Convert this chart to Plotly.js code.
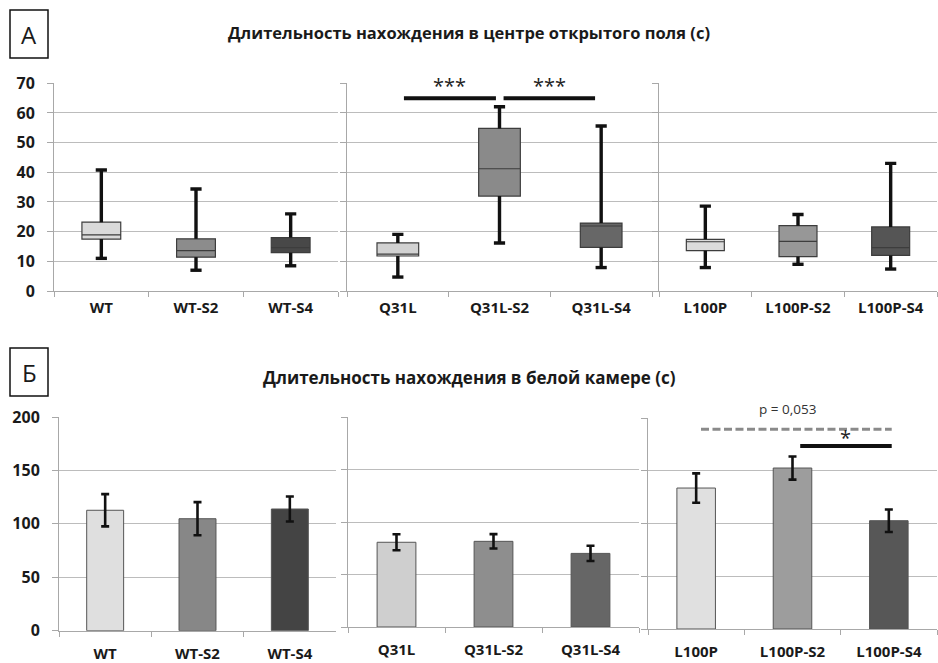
<!DOCTYPE html>
<html>
<head>
<meta charset="utf-8">
<script src="https://cdn.plot.ly/plotly-3.0.1.min.js"></script>
<style>
  html, body { margin: 0; padding: 0; background: #fff; }
  #chart { width: 938px; height: 663px; }
</style>
</head>
<body>
<div id="chart"></div>
<script>
// Group categories (one panel per line)
const catsWT = ['WT', 'WT-S2', 'WT-S4'];
const catsQ31L = ['Q31L', 'Q31L-S2', 'Q31L-S4'];
const catsL100P = ['L100P', 'L100P-S2', 'L100P-S4'];

// А: time in the centre of the open field, s (box statistics per group)
const centreLower  = [[11.0, 7.0, 8.5],   [4.7, 16.2, 7.9],   [7.9, 9.0, 7.4]];
const centreQ1     = [[17.5, 11.4, 12.9], [11.8, 32.0, 14.7], [13.6, 11.6, 12.0]];
const centreMedian = [[18.9, 13.6, 14.6], [12.4, 41.2, 21.9], [16.6, 16.7, 14.6]];
const centreQ3     = [[23.2, 17.6, 18.0], [16.2, 54.8, 22.9], [17.4, 22.0, 21.6]];
const centreUpper  = [[40.8, 34.4, 26.0], [19.1, 62.1, 55.6], [28.6, 25.8, 43.0]];

// Б: time in the white chamber, s (mean and error)
const whiteMean = [[112.7, 104.8, 113.9], [80.8, 81.7, 70.2], [133.8, 152.8, 102.8]];
const whiteErr  = [[15.1, 15.5, 11.7],    [7.6, 6.9, 7.3],    [13.9, 11.0, 10.7]];

// y axis ticks
const ticksCentre = [0, 10, 20, 30, 40, 50, 60, 70];
const ticksWhite = [0, 50, 100, 150, 200];

const groups = [catsWT, catsQ31L, catsL100P];

// fills
const boxFills = [['#dadada', '#8c8c8c', '#484848'], ['#d2d2d2', '#8a8a8a', '#676767'], ['#dcdcdc', '#979797', '#555555']];
const barFills = [['#dfdfdf', '#878787', '#444444'], ['#cfcfcf', '#8e8e8e', '#666666'], ['#e0e0e0', '#9d9d9d', '#575757']];

const W = 938, H = 663;
const px = v => v / W;
const py = v => 1 - v / H;

const FONT = 'Open Sans, Lato, sans-serif';
const INK = '#1a1a1a';
const GRID = '#bcbcbc';
const AXIS = '#a8a8a8';

// panel frames in pixels: [left, right, top, bottom]
const framesA = [[54, 338, 83.3, 291], [347, 652, 83.3, 291], [659, 937, 83.3, 291]];
const framesB = [[59, 336, 417, 630.7], [348, 639, 417.3, 627], [648, 937, 418.3, 629]];

const layout = {
  width: W, height: H,
  margin: {l: 0, r: 0, t: 0, b: 0},
  paper_bgcolor: '#fff', plot_bgcolor: '#fff',
  showlegend: false,
  font: {family: FONT, color: INK},
  shapes: [], annotations: []
};

function addAxes(n, frame, yRange, yTicks, showY, xStandoff) {
  const xs = n === 1 ? '' : String(n);
  layout['xaxis' + xs] = {
    domain: [px(frame[0]), px(frame[1])],
    anchor: 'y' + xs,
    type: 'category',
    range: [-0.5, 2.5],
    tickson: 'boundaries',
    ticks: 'outside', ticklen: 5, tickcolor: AXIS, tickwidth: 1,
    showline: true, linecolor: AXIS, linewidth: 1,
    showgrid: false, zeroline: false,
    ticklabelstandoff: xStandoff,
    tickfont: {family: FONT, size: 15, weight: 700, color: INK},
    fixedrange: true
  };
  layout['yaxis' + xs] = {
    domain: [py(frame[3]), py(frame[2])],
    anchor: 'x' + xs,
    range: yRange,
    tickvals: yTicks,
    ticks: 'outside', ticklen: 6, tickcolor: AXIS, tickwidth: 1,
    showline: true, linecolor: AXIS, linewidth: 1,
    showgrid: true, gridcolor: GRID, gridwidth: 1,
    zeroline: false,
    showticklabels: showY,
    ticklabelstandoff: 9,
    tickfont: {family: FONT, size: 16, weight: 700, color: INK},
    fixedrange: true
  };
}

const traces = [];

// Row А: box plots
groups.forEach((cats, p) => {
  const n = p + 1;
  const xs = n === 1 ? '' : String(n);
  addAxes(n, framesA[p], [0, 70], ticksCentre, p === 0, 3);
  cats.forEach((c, i) => {
    traces.push({
      type: 'box', xaxis: 'x' + xs, yaxis: 'y' + xs,
      x: [c],
      q1: [centreQ1[p][i]], median: [centreMedian[p][i]], q3: [centreQ3[p][i]],
      lowerfence: [centreLower[p][i]], upperfence: [centreUpper[p][i]],
      fillcolor: boxFills[p][i],
      line: {color: '#3d3d3d', width: 1.2},
      width: 0.41, whiskerwidth: 0,
      hoverinfo: 'skip'
    });
  });
  // heavy whiskers
  const wx = [], wy = [], cx = [], cy = [];
  cats.forEach((c, i) => {
    wx.push(c, c, null, c, c, null);
    wy.push(centreQ3[p][i], centreUpper[p][i], null, centreQ1[p][i], centreLower[p][i], null);
    cx.push(c, c);
    cy.push(centreUpper[p][i], centreLower[p][i]);
  });
  traces.push({
    type: 'scatter', mode: 'lines', xaxis: 'x' + xs, yaxis: 'y' + xs,
    x: wx, y: wy, line: {color: '#111', width: 3.4}, connectgaps: false, hoverinfo: 'skip'
  });
  traces.push({
    type: 'scatter', mode: 'markers', xaxis: 'x' + xs, yaxis: 'y' + xs,
    x: cx, y: cy,
    marker: {symbol: 'line-ew', size: 8, line: {color: '#111', width: 3.4}},
    hoverinfo: 'skip'
  });
});

// Row Б: bars with error bars
groups.forEach((cats, p) => {
  const n = p + 4;
  const xs = String(n);
  addAxes(n, framesB[p], [0, 200], ticksWhite, p === 0, 9);
  traces.push({
    type: 'bar', xaxis: 'x' + xs, yaxis: 'y' + xs,
    x: cats, y: whiteMean[p],
    width: 0.4,
    marker: {color: barFills[p], line: {color: '#555', width: 1}},
    error_y: {type: 'data', array: whiteErr[p], visible: true, color: '#111', thickness: 2.6, width: 4},
    hoverinfo: 'skip'
  });
});

// panel letters in frames
[['А', 10, 48, 10, 58], ['Б', 10, 48, 348, 396]].forEach(([t, x0, x1, y0, y1]) => {
  layout.shapes.push({
    type: 'rect', xref: 'paper', yref: 'paper',
    x0: px(x0), x1: px(x1), y0: py(y1), y1: py(y0),
    line: {color: '#111', width: 1.5}
  });
  layout.annotations.push({
    xref: 'paper', yref: 'paper', x: px((x0 + x1) / 2), y: py((y0 + y1) / 2),
    text: t, showarrow: false, xanchor: 'center', yanchor: 'middle',
    font: {family: FONT, size: 24, color: INK}
  });
});

// row titles
[['Длительность нахождения в центре открытого поля (с)', 32, 16.5],
 ['Длительность нахождения в белой камере (с)', 377, 17]].forEach(([t, y, s]) => {
  layout.annotations.push({
    xref: 'paper', yref: 'paper', x: px(469), y: py(y),
    text: t, showarrow: false, xanchor: 'center', yanchor: 'middle',
    font: {family: FONT, size: s, weight: 700, color: INK}
  });
});

// significance marks, row А (Q31L panel)
[[0.06, 0.965], [1.04, 1.94]].forEach(([a, b]) => {
  layout.shapes.push({
    type: 'line', xref: 'x2', yref: 'y2', x0: a, x1: b, y0: 65, y1: 65,
    line: {color: '#111', width: 4}
  });
  layout.annotations.push({
    xref: 'x2', yref: 'y2', x: (a + b) / 2, y: 69.4,
    text: '***', showarrow: false, xanchor: 'center', yanchor: 'middle',
    font: {family: FONT, size: 20, color: '#222'}
  });
});

// significance marks, row Б (L100P panel)
layout.shapes.push({
  type: 'line', xref: 'x6', yref: 'y6', x0: 0.05, x1: 2.03, y0: 189.6, y1: 189.6,
  line: {color: '#8a8a8a', width: 3, dash: '8px,3.5px'}
});
layout.shapes.push({
  type: 'line', xref: 'x6', yref: 'y6', x0: 1.08, x1: 2.03, y0: 173.7, y1: 173.7,
  line: {color: '#111', width: 4}
});
layout.annotations.push({
  xref: 'x6', yref: 'y6', x: 1.55, y: 182, text: '*', showarrow: false,
  xanchor: 'center', yanchor: 'middle', font: {family: FONT, size: 20, color: '#222'}
});
layout.annotations.push({
  xref: 'x6', yref: 'paper', x: 0.95, y: py(408.5), text: 'p = 0,053', showarrow: false,
  xanchor: 'center', yanchor: 'middle', font: {family: FONT, size: 13.5, color: '#333'}
});

Plotly.newPlot('chart', traces, layout, {staticPlot: true, displayModeBar: false});
</script>
</body>
</html>
